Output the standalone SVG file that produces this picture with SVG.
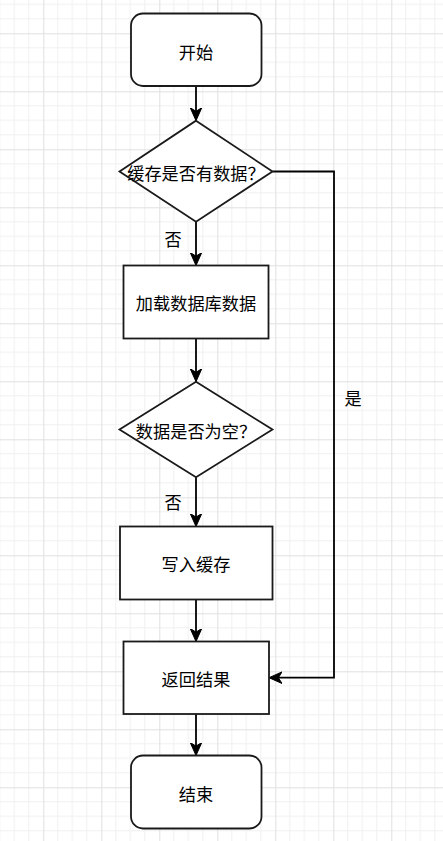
<svg xmlns="http://www.w3.org/2000/svg" width="443" height="841" viewBox="0 0 443 841">
<style>
.node{fill:#ffffff;stroke:#1a1a1a;stroke-width:1.8}
.edge{fill:none;stroke:#000000;stroke-width:1.8;marker-end:url(#arrow)}
.t{font-family:"Noto Sans CJK SC","Microsoft YaHei",sans-serif;font-size:17.2px;fill:#000000;text-anchor:middle;dominant-baseline:central}
.minor{stroke:#f0f0f0;stroke-width:1}
.major{stroke:#e0e0e0;stroke-width:1}
</style>
<defs>
<pattern id="grid" x="43.3" y="33.3" width="58" height="58" patternUnits="userSpaceOnUse">
<path class="minor" d="M14.5,0V58M29,0V58M43.5,0V58M0,14.5H58M0,29H58M0,43.5H58"/>
<path class="major" d="M0.5,0V58M0,0.5H58"/>
</pattern>
<marker id="arrow" markerUnits="userSpaceOnUse" markerWidth="14" markerHeight="14" viewBox="0 -7 14 14" refX="8" refY="0" orient="auto">
<path d="M13,0 L0,-5.8 L3.6,0 L0,5.8 Z" fill="#000000" stroke="#000000" stroke-width="1"/>
</marker>
</defs>
<rect width="443" height="841" fill="#ffffff"/>
<rect width="443" height="841" fill="url(#grid)"/>
<g id="connectors">
<path class="edge" d="M196,86V115.7"/>
<path class="edge" d="M196,221.7V260.5"/>
<path class="edge" d="M196,338.5V376.7"/>
<path class="edge" d="M196,477.3V521.5"/>
<path class="edge" d="M196,599.5V636.5"/>
<path class="edge" d="M196,714V750.5"/>
<path class="edge" d="M272.5,171.5H334V677.7H274"/>
<text class="t" x="173" y="238">否</text>
<text class="t" x="173" y="501">否</text>
<text class="t" x="353" y="397.5">是</text>
</g>
<g id="start">
<rect class="node" x="131" y="13.5" width="130.5" height="72.5" rx="12" ry="12"/>
<text class="t" x="196" y="51">开始</text>
</g>
<g id="cacheCheck">
<path class="node" d="M196,120.7L272.5,171.5L196,221.7L119.5,171.5Z"/>
<text class="t" x="196" y="172.5">缓存是否有数据？</text>
</g>
<g id="loadDb">
<rect class="node" x="123.5" y="265.5" width="145" height="73"/>
<text class="t" x="196" y="302.5">加载数据库数据</text>
</g>
<g id="emptyCheck">
<path class="node" d="M196,381.7L272.5,429.5L196,477.3L119.5,429.5Z"/>
<text class="t" x="196" y="430.5">数据是否为空？</text>
</g>
<g id="writeCache">
<rect class="node" x="120" y="526.5" width="152.5" height="73"/>
<text class="t" x="196" y="563.5">写入缓存</text>
</g>
<g id="returnResult">
<rect class="node" x="123.5" y="641.5" width="145.5" height="72.5"/>
<text class="t" x="196" y="678.5">返回结果</text>
</g>
<g id="end">
<rect class="node" x="131" y="755.5" width="130.5" height="73" rx="12" ry="12"/>
<text class="t" x="196" y="793">结束</text>
</g>
</svg>
